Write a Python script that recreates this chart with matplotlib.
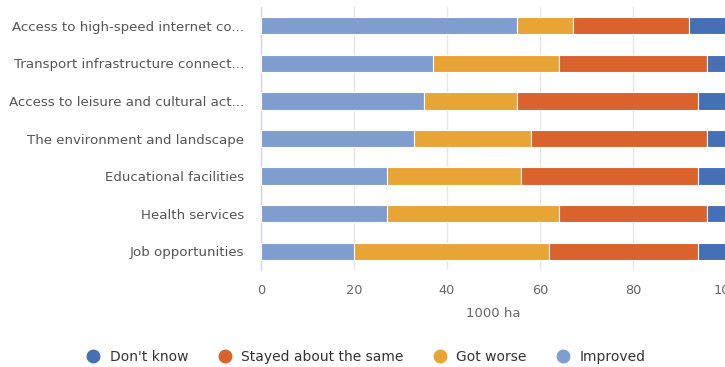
import matplotlib
matplotlib.use("Agg")
import matplotlib.pyplot as plt
import numpy as np
from matplotlib.lines import Line2D

categories = [
    "Access to high-speed internet co...",
    "Transport infrastructure connect...",
    "Access to leisure and cultural act...",
    "The environment and landscape",
    "Educational facilities",
    "Health services",
    "Job opportunities",
]
improved = [55, 37, 35, 33, 27, 27, 20]
got_worse = [12, 27, 20, 25, 29, 37, 42]
stayed = [25, 32, 39, 38, 38, 32, 32]
dont_know = [8, 4, 6, 4, 6, 4, 6]

series = [
    ("Improved", improved, "#7f9dcf"),
    ("Got worse", got_worse, "#e8a535"),
    ("Stayed about the same", stayed, "#d9622d"),
    ("Don't know", dont_know, "#4670b6"),
]
legend_order = ["Don't know", "Stayed about the same", "Got worse", "Improved"]

plt.rcParams["font.family"] = ["DejaVu Sans"]
fig = plt.figure(figsize=(7.25, 3.67), dpi=100)
# axes spans x 261..726 px, y 7..270 px
ax = fig.add_axes([261 / 725, 1 - 270 / 367, 465 / 725, 263 / 367])

y = np.arange(len(categories))
left = np.zeros(len(categories))
for name, vals, color in series:
    vals = np.array(vals, dtype=float)
    ax.barh(y, vals, left=left, height=0.46, color=color,
            edgecolor="white", linewidth=0.8, zorder=3)
    left += vals

ax.set_ylim(len(categories) - 0.5, -0.5)
ax.set_xlim(0, 100)
ax.set_yticks(y)
ax.set_yticklabels(categories, fontsize=9.6, color="#555555")
ax.set_xticks([0, 20, 40, 60, 80, 100])
ax.tick_params(axis="x", length=0, labelsize=9.3, labelcolor="#666666", pad=10)
ax.tick_params(axis="y", length=0, pad=12)
ax.grid(axis="x", color="#e6e6e6", linewidth=1, zorder=0)
for s in ["top", "right", "bottom"]:
    ax.spines[s].set_visible(False)
ax.spines["left"].set_color("#ccd6eb")
ax.spines["left"].set_linewidth(1)
ax.set_xlabel("1000 ha", fontsize=9.5, color="#666666", labelpad=7)

colors = {name: color for name, _, color in series}
handles = [Line2D([0], [0], marker="o", linestyle="none", markersize=9,
                  markerfacecolor=colors[n], markeredgecolor=colors[n])
           for n in legend_order]
fig.legend(handles, legend_order, loc="center", bbox_to_anchor=(0.5, 1 - 357 / 367),
           ncol=4, frameon=False, fontsize=10, handletextpad=0.2,
           columnspacing=1.6, labelcolor="#333333")

fig.savefig("out.png", dpi=100)
